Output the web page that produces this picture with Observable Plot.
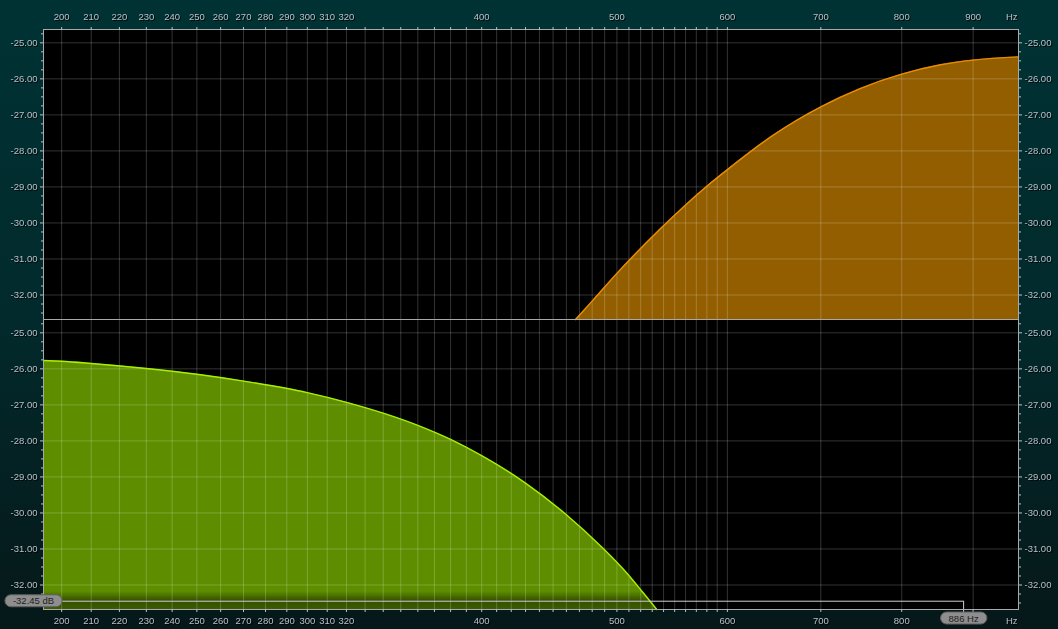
<!DOCTYPE html>
<html><head><meta charset="utf-8">
<script src="https://cdn.jsdelivr.net/npm/d3@7"></script>
<script src="https://cdn.jsdelivr.net/npm/@observablehq/plot@0.6"></script>
<style>
html,body{margin:0;padding:0;background:#041e1f;}
#chart svg{display:block;}
#chart svg g[aria-label$="axis tick"]{stroke:#a9a9a9;}
#chart svg g[aria-label$="axis tick label"]{filter:drop-shadow(1px 1px 0px rgba(0,0,0,0.85));}
#chart svg text[aria-label="hz-label"]{filter:drop-shadow(1px 1px 0px rgba(0,0,0,0.85));}
</style></head><body><div id="chart"></div>
<script>
// ---- data ----
const xDomain = [194.1, 970];
const yDomain = [-32.68, -24.63];
const panels = ["top", "bottom"];

const orangeHz = [467, 480, 500, 537, 580, 600, 648, 700, 747, 800, 853, 900, 970];
const orangeDb = [-32.68, -32.17, -31.40, -30.17, -28.98, -28.52, -27.55, -26.78, -26.27, -25.87, -25.61, -25.48, -25.39];

const greenHz = [194.1, 200, 210, 230, 250, 270, 300, 320, 340, 360, 380, 400, 430, 460, 488, 508, 522, 534];
const greenDb = [-25.77, -25.79, -25.85, -25.99, -26.15, -26.34, -26.66, -26.93, -27.23, -27.57, -27.96, -28.41, -29.17, -30.05, -30.96, -31.66, -32.21, -32.68];

const gridHz = [200,210,220,230,240,250,260,270,280,290,300,310,320,330,340,350,360,370,380,390,
                400,410,420,430,440,450,460,470,480,490,500,510,520,530,540,550,560,570,580,590,600,
                700,800,900];
const labelHzTop = [200,210,220,230,240,250,260,270,280,290,300,310,320,400,500,600,700,800,900];
const labelHzBottom = [200,210,220,230,240,250,260,270,280,290,300,310,320,400,500,600,700,800];
const dbTicks = [-25,-26,-27,-28,-29,-30,-31,-32];
const dbMinor = [-24.75,-25.25,-25.5,-25.75,-26.25,-26.5,-26.75,-27.25,-27.5,-27.75,-28.25,-28.5,-28.75,
                 -29.25,-29.5,-29.75,-30.25,-30.5,-30.75,-31.25,-31.5,-31.75,-32.25,-32.5];
const markerDb = -32.45;
const markerHz = 886;

const orangeRows = orangeHz.map((f, i) => ({hz: f, db: orangeDb[i], panel: "top"}));
const greenRows = greenHz.map((f, i) => ({hz: f, db: greenDb[i], panel: "bottom"}));

const tickCol = "#b7c1c9";

const chart = Plot.plot({
  width: 1058, height: 629,
  marginLeft: 43, marginRight: 40, marginTop: 29, marginBottom: 20,
  style: {
    background: "linear-gradient(180deg, #003234 0%, #022a2c 50%, #061819 100%)",
    fontFamily: "'Liberation Sans', Arial, sans-serif",
    fontSize: "9.5px",
    color: tickCol
  },
  x: {type: "log", domain: xDomain, axis: null},
  y: {domain: yDomain, axis: null},
  fy: {domain: panels, axis: null, padding: 0},
  marks: [
    Plot.frame({fill: "#000"}),
    Plot.areaY(orangeRows, {x: "hz", y1: yDomain[0], y2: "db", fy: "panel", fill: "#935e00", curve: "monotone-x"}),
    Plot.areaY(greenRows, {x: "hz", y1: yDomain[0], y2: "db", fy: "panel", fill: "#5e8e00", curve: "monotone-x"}),
    Plot.rect([markerDb], {fy: () => "bottom", x1: xDomain[0], x2: xDomain[1], y1: yDomain[0], y2: yDomain[0] + 0.5, fill: "url(#btmShade)"}),
    Plot.ruleX(gridHz, {stroke: "#fff", strokeOpacity: 0.2}),
    Plot.ruleY(dbTicks, {stroke: "#fff", strokeOpacity: 0.2}),
    Plot.lineY(orangeRows, {x: "hz", y: "db", fy: "panel", stroke: "#e88d00", strokeWidth: 1.4, curve: "monotone-x"}),
    Plot.lineY(greenRows, {x: "hz", y: "db", fy: "panel", stroke: "#a8f000", strokeWidth: 1.4, curve: "monotone-x"}),
    Plot.ruleY([markerDb], {fy: () => "bottom", x1: xDomain[0], x2: markerHz, stroke: "#d0d0d0", insetLeft: -14}),
    Plot.ruleX([markerHz], {fy: () => "bottom", y1: markerDb, y2: yDomain[0], stroke: "#d0d0d0", insetBottom: -7}),
    Plot.frame({stroke: "#a9a9a9"}),
    Plot.axisX({anchor: "top", ticks: gridHz, tickFormat: d => labelHzTop.includes(d) ? String(d) : "", tickSize: 3, tickPadding: 7, label: null, color: tickCol}),
    Plot.axisX({anchor: "bottom", ticks: gridHz, tickFormat: d => labelHzBottom.includes(d) ? String(d) : "", tickSize: 3, tickPadding: 5, label: null, color: tickCol}),
    Plot.axisY({anchor: "left", ticks: dbTicks, tickFormat: d => d.toFixed(2), tickSize: 3, tickPadding: 3, label: null, color: tickCol}),
    Plot.axisY({anchor: "right", ticks: dbTicks, tickFormat: d => d.toFixed(2), tickSize: 3, tickPadding: 3, label: null, color: tickCol}),
    Plot.axisY({anchor: "left", ticks: dbMinor, tickFormat: () => "", tickSize: 2, label: null, color: tickCol}),
    Plot.axisY({anchor: "right", ticks: dbMinor, tickFormat: () => "", tickSize: 2, label: null, color: tickCol}),
    Plot.text(["Hz"], {fy: () => "top", frameAnchor: "top-right", textAnchor: "end", lineAnchor: "bottom", dx: -1, dy: -10, fill: tickCol, ariaLabel: () => "hz-label"}),
    Plot.text(["Hz"], {fy: () => "bottom", frameAnchor: "bottom-right", textAnchor: "end", lineAnchor: "top", dx: -1, dy: 8, fill: tickCol, ariaLabel: () => "hz-label"}),
    Plot.text([markerDb], {fy: () => "bottom", y: d => d, frameAnchor: "left", textAnchor: "middle", dx: -10, text: d => d.toFixed(2) + " dB", fill: "#1e1e1e", ariaLabel: () => "pill"}),
    Plot.text([markerHz], {fy: () => "bottom", x: d => d, frameAnchor: "bottom", textAnchor: "middle", dy: 12, text: d => d + " Hz", fill: "#1e1e1e", ariaLabel: () => "pill"})
  ]
});

document.getElementById("chart").appendChild(chart);
const svg = chart.tagName.toLowerCase() === "svg" ? chart : chart.querySelector("svg");
const NS = "http://www.w3.org/2000/svg";
const defs = document.createElementNS(NS, "defs");
defs.innerHTML = '<linearGradient id="btmShade" x1="0" y1="0" x2="0" y2="1">' +
  '<stop offset="0" stop-color="#000" stop-opacity="0"/>' +
  '<stop offset="0.55" stop-color="#000" stop-opacity="0.45"/>' +
  '<stop offset="1" stop-color="#000" stop-opacity="0.35"/></linearGradient>';
svg.insertBefore(defs, svg.firstChild);
svg.querySelectorAll('text').forEach(t => {
  const s = t.textContent;
  if (!(t.getAttribute("aria-label") === "pill" || / (dB|Hz)$/.test(s))) return;
  const b = t.getBBox();
  const r = document.createElementNS(NS, "rect");
  r.setAttribute("x", b.x - 8);
  r.setAttribute("y", b.y - 0.5);
  r.setAttribute("width", b.width + 16);
  r.setAttribute("height", b.height + 1);
  r.setAttribute("rx", 6);
  r.setAttribute("fill", "#8e8e8e");
  r.setAttribute("stroke", "#5e5e5e");
  const tr = t.getAttribute("transform");
  if (tr) r.setAttribute("transform", tr);
  t.parentNode.insertBefore(r, t);
});
</script></body></html>
